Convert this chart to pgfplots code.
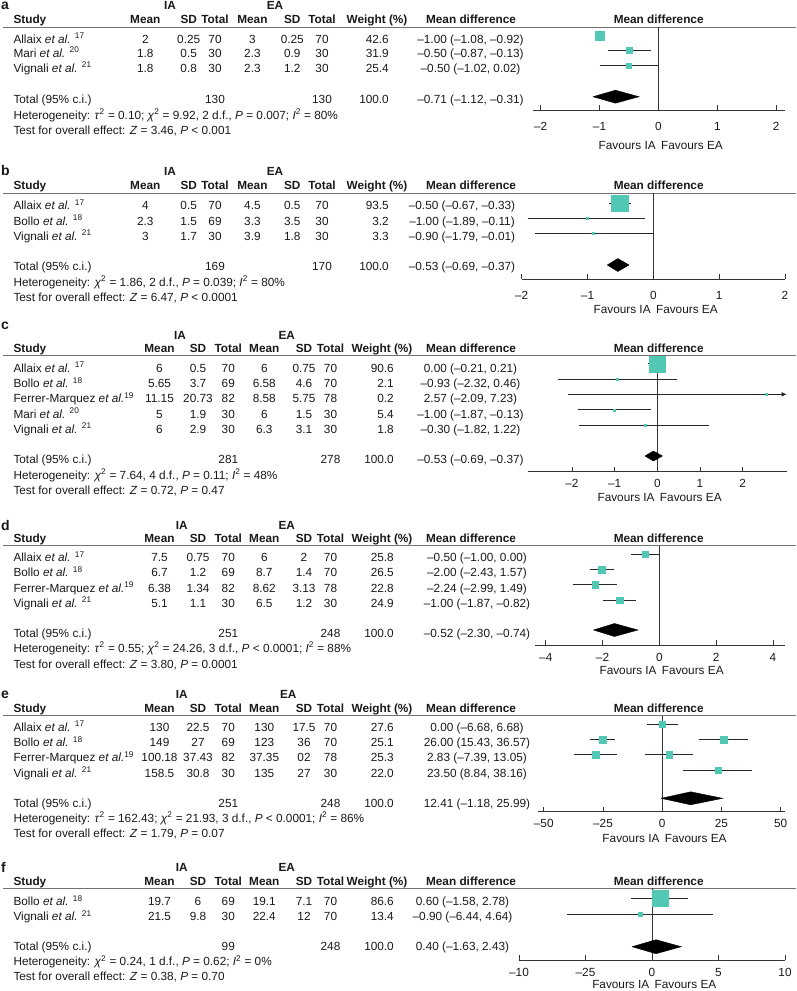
\documentclass[border=0pt]{standalone}
\usepackage{fontspec}
\setmainfont{Liberation Sans}
\usepackage{pgfplots}
\pgfplotsset{compat=1.18}
\usetikzlibrary{arrows.meta}
\definecolor{sq}{RGB}{80,200,180}
\newcommand{\Tl}[3]{\node[anchor=base west] at (#1,{-(#2)-4}) {#3};}
\newcommand{\Tc}[3]{\node[anchor=base] at (#1,{-(#2)-4}) {#3};}
\newcommand{\Tr}[3]{\node[anchor=base east] at (#1,{-(#2)-4}) {#3};}
\newcommand{\Row}[9]{\Tl{13.3}{#1}{#2}\Tc{\cM}{#1}{#3}\Tc{\cS}{#1}{#4}\Tc{\cN}{#1}{#5}\Tc{\cMM}{#1}{#6}\Tc{\cSS}{#1}{#7}\Tc{\cNN}{#1}{#8}\Tr{\cW}{#1}{#9}}
\newcommand{\Tot}[4]{\Tl{13.3}{#1}{Total (95\% c.i.)}\Tc{\cN}{#1}{#2}\Tc{\cNN}{#1}{#3}\Tr{\cW}{#1}{100.0}\Tc{\cD}{#1}{#4}}
\newcommand{\Head}[5]{%
  \node[anchor=base west, font=\fontsize{14}{14}\selectfont\bfseries] at (1,-#2) {#1};
  \node[anchor=base, font=\bfseries] at (\cIA,-#3) {IA};
  \node[anchor=base, font=\bfseries] at (\cEA,-#3) {EA};
  \begin{scope}[font=\bfseries]
  \Tl{13.3}{#4}{Study}\Tc{\cM}{#4}{Mean}\Tc{\cS}{#4}{SD}\Tc{\cN}{#4}{Total}\Tc{\cMM}{#4}{Mean}\Tc{\cSS}{#4}{SD}\Tc{\cNN}{#4}{Total}\Tc{\cWH}{#4}{Weight (\%)}\Tc{471}{#4}{Mean difference}\Tc{658.7}{#4}{Mean difference}
  \end{scope}
  \draw[black!55, line width=0.8pt] (3,-#5) -- (796,-#5);
}
\pgfplotsset{
  forest/.style={scale only axis, enlargelimits=false, clip=false,
    axis x line=bottom, axis y line=none,
    x axis line style={-, black!80, line width=0.6pt},
    tick align=inside, major tick length=5pt,
    tick style={black!80, line width=0.6pt},
    ytick=\empty, xticklabel style={anchor=base}, anchor=south west},
  ci/.style={black!85, line width=0.7pt, mark=none},
  zl/.style={black!80, line width=0.7pt, mark=none},
}
\newcommand{\Study}[5]{%
  \addplot[ci] coordinates {(#2,#4) (#3,#4)};
  \addplot[only marks, mark=square*, mark size=#5, color=sq] coordinates {(#1,#4)};}
% lo, centre, hi, y, ytop, ybottom
\newcommand{\Diam}[6]{%
  \addplot[fill=black, draw=black, mark=none] coordinates {(#1,#4) (#2,#5) (#3,#4) (#2,#6) (#1,#4)};}
\newcommand{\Fav}[1]{%
  \node[anchor=base east] at ([xshift=-2.5pt]axis cs:0,-#1) {Favours IA};
  \node[anchor=base west] at ([xshift=2.5pt]axis cs:0,-#1) {Favours EA};}
\begin{document}
\fontsize{11.8}{14}\selectfont
\begin{tikzpicture}[x=1pt,y=1pt,every node/.style={inner sep=0pt, text=black!90}]
\useasboundingbox (0,0) rectangle (796,-991);
% ---------------- panel a
\def\cIA{170}\def\cEA{275}\def\cM{145.3}\def\cS{188.7}\def\cN{215}\def\cMM{252.4}\def\cSS{292.3}\def\cNN{322}\def\cW{389}\def\cWH{377}\def\cD{470.5}
\Head{a}{9.3}{9.3}{19}{27}
\Row{39.3}{Allaix \textit{et al.} \textsuperscript{17}}{2}{0.25}{70}{3}{0.25}{70}{42.6}\Tc{\cD}{39.3}{–1.00 (–1.08, –0.92)}
\Row{53.3}{Mari \textit{et al.} \textsuperscript{20}}{1.8}{0.5}{30}{2.3}{0.9}{30}{31.9}\Tc{\cD}{53.3}{–0.50 (–0.87, –0.13)}
\Row{68.3}{Vignali \textit{et al.} \textsuperscript{21}}{1.8}{0.8}{30}{2.3}{1.2}{30}{25.4}\Tc{\cD}{68.3}{–0.50 (–1.02, 0.02)}
\Tot{99}{130}{130}{–0.71 (–1.12, –0.31)}
\Tl{13.3}{115}{Heterogeneity: \textit{τ}\textsuperscript{2} = 0.10; \textit{χ}\textsuperscript{2} = 9.92, 2 d.f., \textit{P} = 0.007; \textit{I}\textsuperscript{2} = 80\%}
\Tl{13.3}{130}{Test for overall effect: \textit{Z} = 3.46, \textit{P} < 0.001}
\begin{axis}[forest, at={(533pt,-110pt)}, width=252pt, height=83pt,
  xmin=-2.13, xmax=2.15, ymin=-110, ymax=-27,
  xtick={-2,-1,0,1,2}, xticklabels={–2,–1,0,1,2}, xticklabel style={yshift=-20pt}]
\addplot[zl] coordinates {(0,-27) (0,-110)};
\Study{-1.00}{-1.08}{-0.92}{-35.7}{4.5}
\Study{-0.49}{-0.86}{-0.13}{-50.7}{3}
\Study{-0.50}{-1.00}{0.00}{-65.7}{2.5}
\Diam{-1.11}{-0.73}{-0.33}{-96.7}{-90.2}{-103.2}
\Fav{149}
\end{axis}
% ---------------- panel b
\def\cD{462}
\Head{b}{175}{175}{185}{193.3}
\Row{205.7}{Allaix \textit{et al.} \textsuperscript{17}}{4}{0.5}{70}{4.5}{0.5}{70}{93.5}\Tc{\cD}{205.7}{–0.50 (–0.67, –0.33)}
\Row{221}{Bollo \textit{et al.} \textsuperscript{18}}{2.3}{1.5}{69}{3.3}{3.5}{30}{3.2}\Tc{\cD}{221}{–1.00 (–1.89, –0.11)}
\Row{236}{Vignali \textit{et al.} \textsuperscript{21}}{3}{1.7}{30}{3.9}{1.8}{30}{3.3}\Tc{\cD}{236}{–0.90 (–1.79, –0.01)}
\Tot{266.7}{169}{170}{–0.53 (–0.69, –0.37)}
\Tl{13.3}{282.3}{Heterogeneity: \textit{χ}\textsuperscript{2} = 1.86, 2 d.f., \textit{P} = 0.039; \textit{I}\textsuperscript{2} = 80\%}
\Tl{13.3}{297.7}{Test for overall effect: \textit{Z} = 6.47, \textit{P} < 0.0001}
\begin{axis}[forest, at={(521.7pt,-279pt)}, width=263.3pt, height=85.7pt,
  xmin=-2, xmax=2, ymin=-279, ymax=-193.3,
  xtick={-2,-1,0,1,2}, xticklabels={–2,–1,0,1,2}, xticklabel style={yshift=-20pt}]
\addplot[zl] coordinates {(0,-193.3) (0,-279)};
\Study{-0.51}{-0.67}{-0.34}{-203.3}{8.2}
\Study{-1.00}{-1.91}{-0.12}{-218.3}{1}
\Study{-0.91}{-1.80}{-0.01}{-233.3}{1}
\Diam{-0.70}{-0.54}{-0.37}{-265}{-258.5}{-271.5}
\Fav{313}
\end{axis}
% ---------------- panel c
\def\cIA{180}\def\cEA{286.7}\def\cM{159.5}\def\cS{198}\def\cN{228.3}\def\cMM{264.3}\def\cSS{304}\def\cNN{330.5}\def\cW{394}\def\cWH{382}\def\cD{470.5}
\Head{c}{329.3}{339}{348.3}{355.7}
\Row{368.3}{Allaix \textit{et al.} \textsuperscript{17}}{6}{0.5}{70}{6}{0.75}{70}{90.6}\Tc{\cD}{368.3}{0.00 (–0.21, 0.21)}
\Row{383.5}{Bollo \textit{et al.} \textsuperscript{18}}{5.65}{3.7}{69}{6.58}{4.6}{70}{2.1}\Tc{\cD}{383.5}{–0.93 (–2.32, 0.46)}
\Row{398.7}{Ferrer-Marquez \textit{et al.}\textsuperscript{19}}{11.15}{20.73}{82}{8.58}{5.75}{78}{0.2}\Tc{\cD}{398.7}{2.57 (–2.09, 7.23)}
\Row{414}{Mari \textit{et al.} \textsuperscript{20}}{5}{1.9}{30}{6}{1.5}{30}{5.4}\Tc{\cD}{414}{–1.00 (–1.87, –0.13)}
\Row{429.3}{Vignali \textit{et al.} \textsuperscript{21}}{6}{2.9}{30}{6.3}{3.1}{30}{1.8}\Tc{\cD}{429.3}{–0.30 (–1.82, 1.22)}
\Tot{459.3}{281}{278}{–0.53 (–0.69, –0.37)}
\Tl{13.3}{475}{Heterogeneity: \textit{χ}\textsuperscript{2} = 7.64, 4 d.f., \textit{P} = 0.11; \textit{I}\textsuperscript{2} = 48\%}
\Tl{13.3}{490.7}{Test for overall effect: \textit{Z} = 0.72, \textit{P} = 0.47}
\begin{axis}[forest, at={(528.3pt,-471.7pt)}, width=258.4pt, height=116pt,
  xmin=-3.02, xmax=3.03, ymin=-471.7, ymax=-355.7,
  xtick={-2,-1,0,1,2}, xticklabels={–2,–1,0,1,2}, xticklabel style={yshift=-16pt}]
\addplot[zl] coordinates {(0,-355.7) (0,-471.7)};
\Study{0.00}{-0.21}{0.21}{-363.7}{8}
\Study{-0.94}{-2.32}{0.45}{-379}{1}
\addplot[ci, -{Latex[length=5pt,width=4.5pt]}] coordinates {(-2.08,-394.3) (3.03,-394.3)};
\addplot[only marks, mark=square*, mark size=1, color=sq] coordinates {(2.56,-394.3)};
\Study{-1.00}{-1.85}{-0.15}{-409.7}{1}
\Study{-0.29}{-1.83}{1.22}{-425}{1}
\Diam{-0.29}{-0.09}{0.12}{-456}{-451}{-461}
\Fav{501.3}
\end{axis}
% ---------------- panel d
\def\cIA{181.7}\def\cD{477}
\Head{d}{530}{529}{538.3}{545.7}
\Row{557.7}{Allaix \textit{et al.} \textsuperscript{17}}{7.5}{0.75}{70}{6}{2}{70}{25.8}\Tc{\cD}{557.7}{–0.50 (–1.00, 0.00)}
\Row{572.9}{Bollo \textit{et al.} \textsuperscript{18}}{6.7}{1.2}{69}{8.7}{1.4}{70}{26.5}\Tc{\cD}{572.9}{–2.00 (–2.43, 1.57)}
\Row{588.1}{Ferrer-Marquez \textit{et al.}\textsuperscript{19}}{6.38}{1.34}{82}{8.62}{3.13}{78}{22.8}\Tc{\cD}{588.1}{–2.24 (–2.99, 1.49)}
\Row{603.3}{Vignali \textit{et al.} \textsuperscript{21}}{5.1}{1.1}{30}{6.5}{1.2}{30}{24.9}\Tc{\cD}{603.3}{–1.00 (–1.87, –0.82)}
\Tot{633.3}{251}{248}{–0.52 (–2.30, –0.74)}
\Tl{13.3}{648.3}{Heterogeneity: \textit{τ}\textsuperscript{2} = 0.55; \textit{χ}\textsuperscript{2} = 24.26, 3 d.f., \textit{P} < 0.0001; \textit{I}\textsuperscript{2} = 88\%}
\Tl{13.3}{664}{Test for overall effect: \textit{Z} = 3.80, \textit{P} = 0.0001}
\begin{axis}[forest, at={(535pt,-645pt)}, width=250pt, height=99.3pt,
  xmin=-4.38, xmax=4.43, ymin=-645, ymax=-545.7,
  xtick={-4,-2,0,2,4}, xticklabels={–4,–2,0,2,4}, xticklabel style={yshift=-16pt}]
\addplot[zl] coordinates {(0,-545.7) (0,-645)};
\Study{-0.49}{-0.99}{0.00}{-554.3}{3.3}
\Study{-2.03}{-2.45}{-1.58}{-569.5}{3.3}
\Study{-2.26}{-3.05}{-1.50}{-584.7}{3.3}
\Study{-1.40}{-2.00}{-0.81}{-600}{3.3}
\Diam{-2.32}{-1.58}{-0.75}{-630}{-623.5}{-636.5}
\Fav{674}
\end{axis}
% ---------------- panel e
\def\cEA{288.3}
\Head{e}{698.3}{698.3}{708.3}{715.7}
\Row{727.3}{Allaix \textit{et al.} \textsuperscript{17}}{130}{22.5}{70}{130}{17.5}{70}{27.6}\Tc{\cD}{727.3}{0.00 (–6.68, 6.68)}
\Row{742.6}{Bollo \textit{et al.} \textsuperscript{18}}{149}{27}{69}{123}{36}{70}{25.1}\Tc{\cD}{742.6}{26.00 (15.43, 36.57)}
\Row{757.9}{Ferrer-Marquez \textit{et al.}\textsuperscript{19}}{100.18}{37.43}{82}{37.35}{02}{78}{25.3}\Tc{\cD}{757.9}{2.83 (–7.39, 13.05)}
\Row{773.2}{Vignali \textit{et al.} \textsuperscript{21}}{158.5}{30.8}{30}{135}{27}{30}{22.0}\Tc{\cD}{773.2}{23.50 (8.84, 38.16)}
\Tot{803.3}{251}{248}{12.41 (–1.18, 25.99)}
\Tl{13.3}{818.3}{Heterogeneity: \textit{τ}\textsuperscript{2} = 162.43; \textit{χ}\textsuperscript{2} = 21.93, 3 d.f., \textit{P} < 0.0001; \textit{I}\textsuperscript{2} = 86\%}
\Tl{13.3}{833.3}{Test for overall effect: \textit{Z} = 1.79, \textit{P} = 0.07}
\begin{axis}[forest, at={(538.3pt,-811.7pt)}, width=246.7pt, height=96pt,
  xmin=-52.3, xmax=51.8, ymin=-811.7, ymax=-715.7,
  xtick={-50,-25,0,25,50}, xticklabels={–50,–25,0,25,50}, xticklabel style={yshift=-16pt}]
\addplot[zl] coordinates {(0,-715.7) (0,-811.7)};
\Study{0}{-6.6}{6.5}{-724.3}{3.3}
\Study{-25.2}{-30.5}{-20}{-739.5}{3.3}
\Study{26.0}{15.5}{36.3}{-739.5}{3.3}
\Study{-28}{-37.1}{-19.0}{-754.7}{3.3}
\Study{2.95}{-7.3}{13.1}{-754.7}{3.3}
\Study{23.6}{8.9}{38.0}{-770}{3.3}
\Diam{-0.5}{12}{25.5}{-798.3}{-791.8}{-804.8}
\Fav{842.3}
\end{axis}
% ---------------- panel f
\def\cEA{286.7}\def\cWH{377}\def\cD{462.5}
\Head{f}{872.3}{871}{881.7}{888.3}
\Row{901.7}{Bollo \textit{et al.} \textsuperscript{18}}{19.7}{6}{69}{19.1}{7.1}{70}{86.6}\Tc{\cD}{901.7}{0.60 (–1.58, 2.78)}
\Row{916.7}{Vignali \textit{et al.} \textsuperscript{21}}{21.5}{9.8}{30}{22.4}{12}{70}{13.4}\Tc{\cD}{916.7}{–0.90 (–6.44, 4.64)}
\Tot{946.7}{99}{248}{0.40 (–1.63, 2.43)}
\Tl{13.3}{961.7}{Heterogeneity: \textit{χ}\textsuperscript{2} = 0.24, 1 d.f., \textit{P} = 0.62; \textit{I}\textsuperscript{2} = 0\%}
\Tl{13.3}{976.7}{Test for overall effect: \textit{Z} = 0.38, \textit{P} = 0.70}
\begin{axis}[forest, at={(519pt,-960pt)}, width=266pt, height=71.7pt,
  xmin=-10, xmax=10, ymin=-960, ymax=-888.3,
  xtick={-10,-5,0,5,10}, xticklabels={–10,–25,0,5,10}, xticklabel style={yshift=-16pt}]
\addplot[zl] coordinates {(0,-888.3) (0,-960)};
\Study{0.62}{-1.55}{2.7}{-898.3}{7.7}
\Study{-0.92}{-6.4}{4.6}{-914}{2}
\Diam{-1.5}{0.3}{2.2}{-946.7}{-939.7}{-953.7}
\Fav{988}
\end{axis}
\end{tikzpicture}
\end{document}
